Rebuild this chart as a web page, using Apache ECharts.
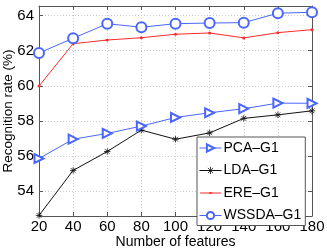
<!DOCTYPE html>
<html><head><meta charset="utf-8">
<script src="https://cdn.jsdelivr.net/npm/echarts@6/dist/echarts.min.js"></script>
<style>html,body{margin:0;padding:0;background:#fff}#c{width:327px;height:249px}</style>
</head><body><div id="c"></div>
<script>
const features = [20, 40, 60, 80, 100, 120, 140, 160, 180];
const pcaG1   = [55.85, 56.95, 57.28, 57.70, 58.19, 58.46, 58.69, 59.01, 59.00];
const ldaG1   = [52.60, 55.17, 56.25, 57.47, 56.95, 57.31, 58.14, 58.34, 58.57];
const ereG1   = [59.98, 62.40, 62.61, 62.74, 62.94, 63.01, 62.73, 63.03, 63.20];
const wssdaG1 = [61.87, 62.71, 63.54, 63.34, 63.54, 63.58, 63.60, 64.14, 64.19];
const yTicks = [54, 56, 58, 60, 62, 64];
const seriesNames = ['PCA\u2013G1', 'LDA\u2013G1', 'ERE\u2013G1', 'WSSDA\u2013G1'];

const font = 'Liberation Sans, Arial, Helvetica, sans-serif';
const tickFont = '"Liberation Sans Narrow", "Liberation Sans", Arial, sans-serif';
const blue = '#4a66ff', red = '#ff2a2a', black = '#111';
const star = 'path://M0,-5L0,5M-5,0L5,0M-3.6,-3.6L3.6,3.6M-3.6,3.6L3.6,-3.6';
const ereIcon = 'path://M0,0L0,0M0,4.25h22v1h-22zM9.9,3.6h2.2v2.2h-2.2zM22,9.5L22,9.5';
const pair = v => features.map((f, i) => [f, v[i]]);
const chart = echarts.init(document.getElementById('c'), null, {renderer: 'canvas'});
chart.setOption({
  animation: false,
  grid: {show: false, left: 39, right: 15, top: 6, bottom: 33, outerBoundsMode: 'none', containLabel: false},
  xAxis: [{
    type: 'value', min: 20, max: 180, interval: 20,
    name: 'Number of features', nameLocation: 'middle', nameGap: 19, nameMoveOverlap: false,
    nameTextStyle: {fontFamily: font, fontSize: 14, color: '#000'},
    axisLine: {lineStyle: {color: '#555', width: 1}},
    axisTick: {inside: true, length: 4, lineStyle: {color: '#555'}},
    axisLabel: {fontFamily: tickFont, fontSize: 15, color: '#000', margin: 3},
    splitLine: {show: true, lineStyle: {color: '#cccccc', type: [1, 2]}}
  }, {
    type: 'value', min: 20, max: 180, interval: 20, position: 'top',
    axisLine: {show: true, onZero: false, lineStyle: {color: '#555'}},
    axisTick: {inside: true, length: 4, lineStyle: {color: '#555'}},
    axisLabel: {show: false}, splitLine: {show: false}
  }],
  yAxis: [{
    type: 'value', min: 52.57, max: 64.55,
    name: 'Recognition rate (%)', nameLocation: 'middle', nameGap: 24, nameMoveOverlap: false,
    nameTextStyle: {fontFamily: font, fontSize: 13.5, color: '#000'},
    axisLine: {show: true, lineStyle: {color: '#555', width: 1}},
    axisTick: {show: true, inside: true, length: 4, lineStyle: {color: '#555'},
      customValues: yTicks},
    axisLabel: {fontFamily: tickFont, fontSize: 15, color: '#000', margin: 5,
      customValues: yTicks, formatter: v => String(v)},
    splitLine: {show: true, lineStyle: {color: '#cccccc', type: [1, 2]}}
  }, {
    type: 'value', min: 52.57, max: 64.55, position: 'right',
    axisLine: {show: true, onZero: false, lineStyle: {color: '#555'}},
    axisTick: {show: true, inside: true, length: 4, lineStyle: {color: '#555'}, customValues: yTicks},
    axisLabel: {show: false}, splitLine: {show: false}
  }],
  legend: {
    left: 197, top: 137, orient: 'vertical',
    backgroundColor: '#fff', borderColor: '#555', borderWidth: 1,
    padding: [4, 4, 3, 2], itemGap: 8.5, itemWidth: 22, itemHeight: 9,
    itemStyle: {borderWidth: 1},
    lineStyle: {width: 1},
    textStyle: {fontFamily: font, fontSize: 14, color: '#000', padding: [0, 0, 0, -3]},
    data: [
      {name: seriesNames[0]},
      {name: seriesNames[1], itemStyle: {borderWidth: 0.8}},
      {name: seriesNames[2], icon: ereIcon, itemStyle: {color: red, borderWidth: 0}},
      {name: seriesNames[3]}
    ]
  },
  series: [
    {name: seriesNames[0], type: 'line', data: pair(pcaG1), symbol: 'emptyTriangle', symbolRotate: -90, symbolSize: 9,
      lineStyle: {color: blue, width: 1}, itemStyle: {color: blue, borderColor: blue, borderWidth: 1}, z: 4},
    {name: seriesNames[1], type: 'line', data: pair(ldaG1), symbol: star, symbolSize: 6.5,
      lineStyle: {color: black, width: 1}, itemStyle: {color: black, borderColor: black, borderWidth: 0.8}, z: 3},
    {name: seriesNames[2], type: 'line', data: pair(ereG1), symbol: 'circle', symbolSize: 3,
      lineStyle: {color: red, width: 1}, itemStyle: {color: red, borderColor: red, borderWidth: 0}, z: 2},
    {name: seriesNames[3], type: 'line', data: pair(wssdaG1), symbol: 'emptyCircle', symbolSize: 10,
      lineStyle: {color: blue, width: 1}, itemStyle: {color: blue, borderColor: blue, borderWidth: 1}, z: 5}
  ]
});
</script></body></html>
